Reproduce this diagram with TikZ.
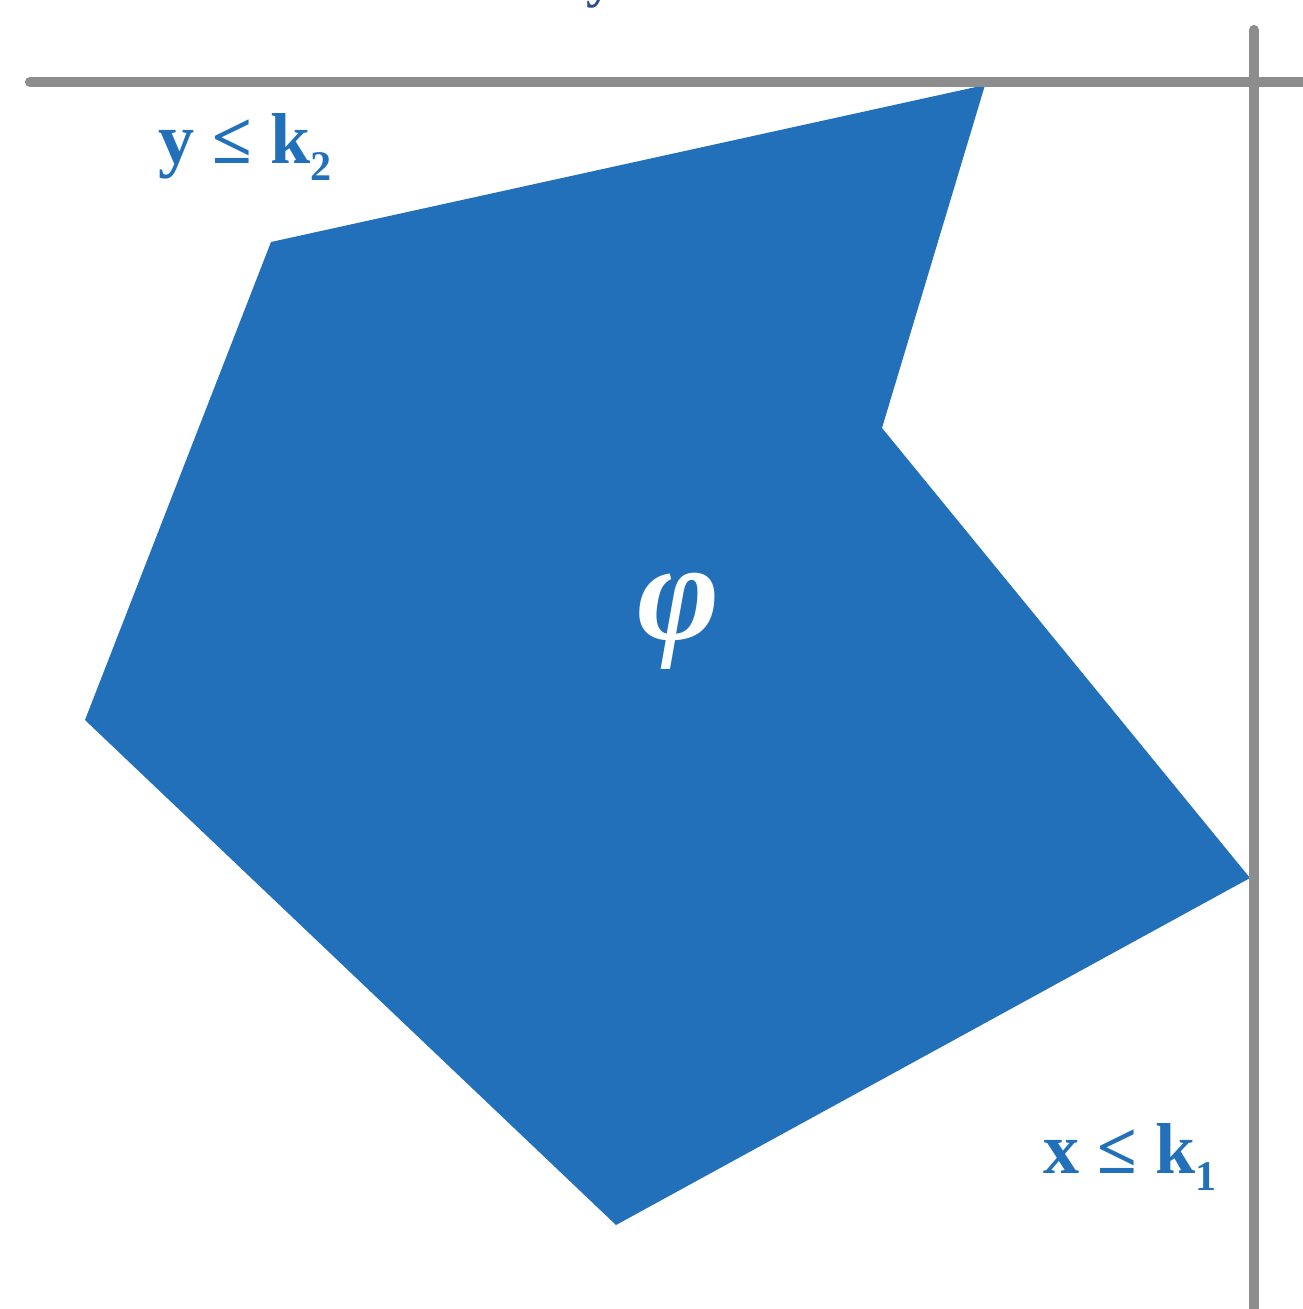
\documentclass[tikz,border=0pt]{standalone}
\usepackage{fontspec}
\setmainfont{Liberation Serif}
\newfontfamily\symfont{DejaVu Serif}
\definecolor{regblue}{RGB}{34,112,185}
\definecolor{navy}{RGB}{44,74,140}
\definecolor{axisgray}{RGB}{141,141,141}
\begin{document}
\begin{tikzpicture}[x=0.01cm,y=-0.01cm,
  axis/.style={draw=axisgray,line width=2.9pt,line cap=round},
  lbl/.style={text=regblue,font=\bfseries\fontsize{20.5}{20.5}\selectfont,inner sep=0pt,anchor=base west},
  toplbl/.style={text=navy,font=\bfseries\fontsize{15.5}{15.5}\selectfont,inner sep=0pt,anchor=base west},
  sym/.style={text=white,font=\bfseries\itshape\fontsize{40}{40}\selectfont,inner sep=0pt}]
\useasboundingbox (0,0) rectangle (1302,1309);
% region phi
\fill[regblue] (985,85) coordinate (p1) -- (271,242) coordinate (p2) -- (85,720) coordinate (p3)
  -- (616,1225) coordinate (p4) -- (1250,878) coordinate (p5) -- (882,428) coordinate (p6) -- cycle;
% constraint lines
\coordinate (hl) at (30,82);
\coordinate (hr) at (1340,82);
\coordinate (vt) at (1254,30);
\coordinate (vb) at (1254,1340);
\draw[axis] (hl) -- (hr);
\draw[axis] (vt) -- (vb);
% labels
\node[sym] (phi) at (679,621) {φ};
\node[lbl] (ly) at (158,163) {y ≤ k\raisebox{-5pt}{\fontsize{12}{12}\selectfont 2}};
\node[lbl] (lx) at (1043,1173) {x ≤ k\raisebox{-5pt}{\fontsize{12}{12}\selectfont 1}};
\node[toplbl] (ltop) at (400,-3) {x ≤ k {\symfont ∧} y};
\end{tikzpicture}
\end{document}
